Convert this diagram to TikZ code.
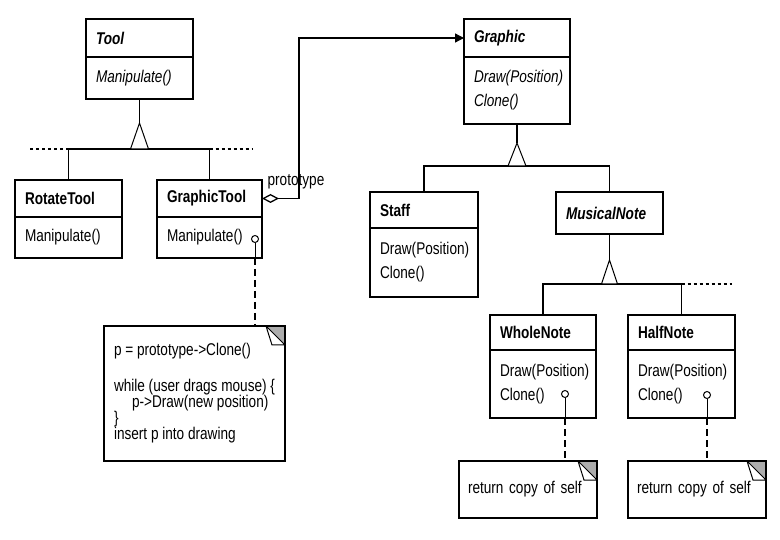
\documentclass[tikz,border=0pt]{standalone}
\usepackage{fontspec}
\setmainfont{Liberation Sans}[FakeStretch=0.8]
\usepackage{tikz}
\usetikzlibrary{arrows.meta,positioning}

\begin{document}
\begin{tikzpicture}[x=1pt, y=-1pt,
        cls/.style={draw, line width=1.6pt, outer sep=0pt, inner xsep=10pt, inner ysep=0pt,
          align=left, anchor=north west, font=\fontsize{17}{24}\selectfont},
        note/.style={cls, inner xsep=9pt, font=\fontsize{17}{16}\selectfont,
          path picture={
            \fill[gray!65] ([xshift=-19pt]path picture bounding box.north east)
              -- (path picture bounding box.north east)
              -- ([yshift=-19pt]path picture bounding box.north east) -- cycle;
            \draw[line width=1pt, fill=white] ([xshift=-19pt]path picture bounding box.north east)
              -- ([xshift=-13pt,yshift=-19pt]path picture bounding box.north east)
              -- ([yshift=-19pt]path picture bounding box.north east) -- cycle;
          }},
        dot/.style={draw, circle, line width=1pt, inner sep=0pt, minimum size=7pt},
        conn/.style={line width=1.3pt},
        tri/.style={line width=1pt, fill=white},
        link/.style={line width=1.2pt, dash pattern=on 7pt off 4pt}
      ]
      \useasboundingbox (0,0) rectangle (780,540);

      % Tool hierarchy
      \node[cls, text width=87pt, minimum height=38pt] (tool) at (86,19) {\textbf{\textit{Tool}}};
      \node[cls, text width=87pt, minimum height=42pt, below=0pt of tool] (toolm) {\textit{Manipulate()}};
      \node[cls, text width=87pt, minimum height=37pt] (rotate) at (15,180) {\textbf{RotateTool}};
      \node[cls, text width=87pt, minimum height=41pt, below=0pt of rotate] (rotatem) {Manipulate()};
      \node[cls, text width=85pt, minimum height=37pt] (gtool) at (157,180) {\textbf{GraphicTool}};
      \node[cls, text width=85pt, minimum height=41pt, below=0pt of gtool] (gtoolm) {Manipulate()};

      \coordinate (toolapex) at (139.5,123);
      \coordinate (toolbar) at (139.5,149);
      \coordinate (tooldashl) at (28,149);
      \coordinate (tooldashr) at (252,149);
      \draw[conn] (toolm.south) -- (toolapex);
      \draw[conn] (rotate.north) |- (toolbar) -| (gtool.north);
      \draw[conn, dashed] (rotate.north |- toolbar) -- (tooldashl);
      \draw[conn, dashed] (gtool.north |- toolbar) -- (tooldashr);
      \draw[tri] (toolapex) -- ++(9,26) -- ++(-18,0) -- cycle;

      % Graphic hierarchy
      \node[cls, text width=86pt, minimum height=38pt] (graphic) at (464,19) {\textbf{\textit{Graphic}}};
      \node[cls, text width=86pt, minimum height=67pt, below=0pt of graphic] (graphicm)
        {\textit{Draw(Position)}\\ \textit{Clone()}};
      \node[cls, text width=88pt, minimum height=36pt] (staff) at (370,192) {\textbf{Staff}};
      \node[cls, text width=88pt, minimum height=69pt, below=0pt of staff] (staffm)
        {Draw(Position)\\ Clone()};
      \node[cls, text width=87pt, minimum height=42pt] (mnote) at (556,192) {\textbf{\textit{MusicalNote}}};

      \coordinate (gapex) at (517,143);
      \coordinate (gbar) at (517,166);
      \draw[conn] (graphicm.south) -- (gapex);
      \draw[conn] (staff.north) |- (gbar) -| (mnote.north);
      \draw[tri] (gapex) -- ++(9,23) -- ++(-18,0) -- cycle;

      \node[cls, text width=86pt, minimum height=35pt] (whole) at (490,315) {\textbf{WholeNote}};
      \node[cls, text width=86pt, minimum height=68pt, below=0pt of whole] (wholem)
        {Draw(Position)\\ Clone()};
      \node[cls, text width=87pt, minimum height=35pt] (half) at (628,315) {\textbf{HalfNote}};
      \node[cls, text width=87pt, minimum height=68pt, below=0pt of half] (halfm)
        {Draw(Position)\\ Clone()};

      \coordinate (mapex) at (609.5,260);
      \coordinate (mbar) at (609.5,284);
      \coordinate (mdashr) at (732,284);
      \draw[conn] (mnote.south) -- (mapex);
      \draw[conn] (whole.north) |- (mbar) -| (half.north);
      \draw[conn, dashed] (half.north |- mbar) -- (mdashr);
      \draw[tri] (mapex) -- ++(8,24) -- ++(-16,0) -- cycle;

      % prototype
      \draw[conn, {Diamond[open,length=17pt,width=9pt]}-{Triangle[length=9pt,width=9pt]}]
        (gtool.east) -- ++(37,0) node[above right, pos=0, xshift=5pt, yshift=9pt, inner sep=0pt,
          font=\fontsize{17}{24}\selectfont] {prototype} |- (graphic.west);

      % notes
      \node[note, minimum width=181pt, minimum height=135pt] (gtnote) at (104,326)
        {p = prototype->Clone()\\[20pt]
         while (user drags mouse) \{\\
         \hspace*{18pt}p->Draw(new position)\\
         \}\\
         insert p into drawing};
      \node[note, text width=120pt, minimum height=57pt] (wnote) at (459,461) {return copy of self};
      \node[note, text width=120pt, minimum height=57pt] (hnote) at (628,461) {return copy of self};

      \node[dot] (gtdot) at (255,239) {};
      \node[dot] (wdot) at (565,394) {};
      \node[dot] (hdot) at (707,395) {};
      \draw[line width=1pt] (gtdot) -- (gtdot |- gtoolm.south);
      \draw[line width=1pt] (wdot) -- (wdot |- wholem.south);
      \draw[line width=1pt] (hdot) -- (hdot |- halfm.south);
      \draw[link, line width=1.8pt] (gtdot |- gtoolm.south) -- (gtdot |- gtnote.north);
      \draw[link] (wdot |- wholem.south) -- (wdot |- wnote.north);
      \draw[link] (hdot |- halfm.south) -- (hdot |- hnote.north);
    \end{tikzpicture}
\end{document}
